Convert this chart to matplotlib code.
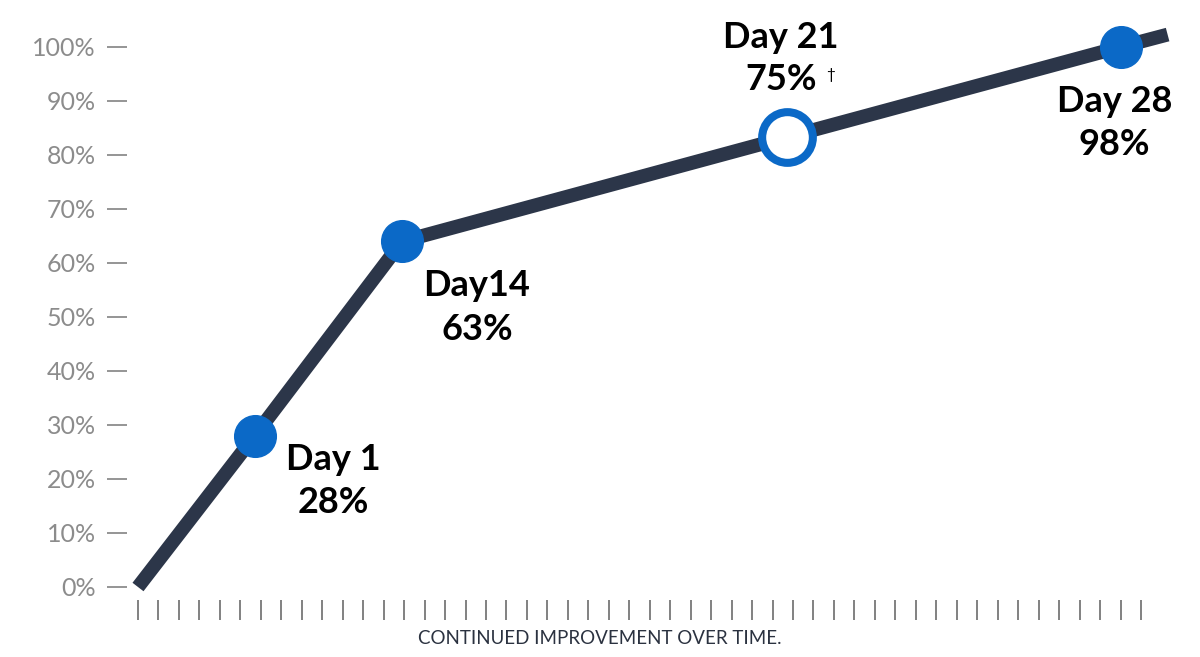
import matplotlib
matplotlib.use('Agg')
import matplotlib.pyplot as plt

plt.rcParams['font.family'] = ['Lato', 'DejaVu Sans']

# line path, x in tick steps along the bottom, y in percent
line_x = [0, 5.7, 12.9, 31.7, 48.0, 50.3]
line_y = [0, 28, 64, 83.3, 100, 102.3]

# labelled points
day_x = [5.7, 12.9, 31.7, 48.0]
day_y = [28, 64, 83.3, 100]
day_names = ['Day 1', 'Day14', 'Day 21', 'Day 28']
day_pcts = ['28%', '63%', '75%', '98%']
day_open = [False, False, True, False]

y_ticks = [0, 10, 20, 30, 40, 50, 60, 70, 80, 90, 100]
y_labels = ['0%', '10%', '20%', '30%', '40%', '50%', '60%', '70%', '80%', '90%', '100%']
n_xticks = 50
x_title = 'CONTINUED IMPROVEMENT OVER TIME.'

# baseline offsets of the two label lines from each point (pixels)
name_offsets = [(79, -34), (75, -55), (-6, 89), (-6, -65)]
pct_offsets = [(79, -77), (75, -99), (-6, 47), (-6, -108)]

LINE = '#2c3649'
BLUE = '#0b69c7'
GREY = '#8c8c8c'

fig = plt.figure(figsize=(12, 6.57), dpi=100)
ax = fig.add_axes([138 / 1200, 70 / 657, 1003 / 1200, 540 / 657])
ax.set_xlim(0, n_xticks - 1)
ax.set_ylim(0, 100)

ax.plot(line_x, line_y, color=LINE, lw=10, solid_capstyle='butt',
        solid_joinstyle='miter', clip_on=False, zorder=2)

for x, y, is_open in zip(day_x, day_y, day_open):
    if is_open:
        ax.plot(x, y, 'o', ms=36.5, mfc='white', mec=BLUE, mew=5.8,
                clip_on=False, zorder=3)
    else:
        ax.plot(x, y, 'o', ms=30, color=BLUE, mec=BLUE, clip_on=False, zorder=3)

for i in range(len(day_x)):
    for txt, off in [(day_names[i], name_offsets[i]), (day_pcts[i], pct_offsets[i])]:
        ax.annotate(txt, xy=(day_x[i], day_y[i]), xytext=off,
                    textcoords='offset pixels', ha='center', va='baseline',
                    fontsize=26, fontweight='bold', color='black',
                    annotation_clip=False)

# dagger next to the Day 21 value
ax.annotate('\u2020', xy=(day_x[2], day_y[2]), xytext=(44, 62),
            textcoords='offset pixels', ha='center', va='center',
            fontsize=11, color='black', annotation_clip=False)

ax.set_yticks(y_ticks, y_labels)
ax.set_xticks(range(n_xticks))
ax.tick_params(axis='y', length=14.4, width=1.3, color=GREY, pad=8,
               labelsize=18, labelcolor=GREY)
ax.tick_params(axis='x', length=14.4, width=1.3, color='#777777',
               labelbottom=False)

ax.spines['left'].set_position(('outward', 8))
ax.spines['bottom'].set_position(('outward', 9.4))
for s in ['left', 'bottom']:
    ax.spines[s].set_color('none')
for s in ['top', 'right']:
    ax.spines[s].set_visible(False)

fig.text(0.5, 1 - 639 / 657, x_title, ha='center', va='center',
         fontsize=13.5, color='#2b3240')

fig.savefig('out.png', dpi=100)
